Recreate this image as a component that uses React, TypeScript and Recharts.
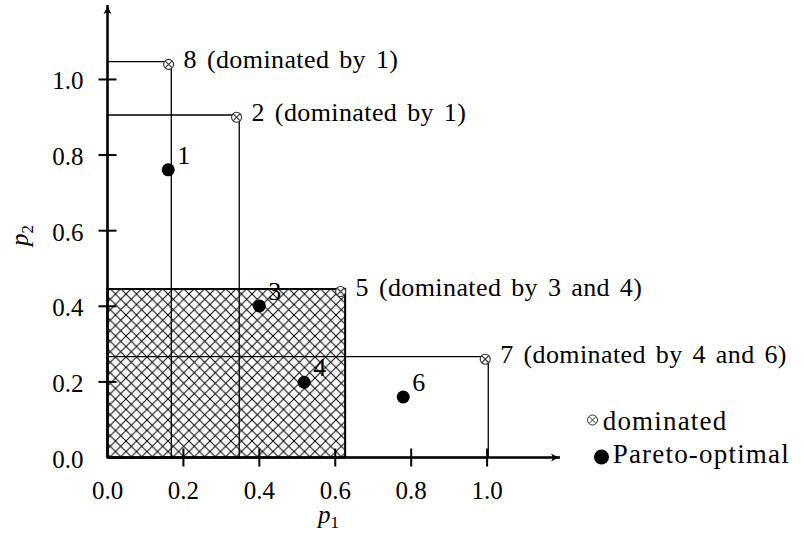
import {
  ScatterChart, Scatter, XAxis, YAxis, ReferenceArea, Legend,
} from "recharts";

// dominated solutions
const dominatedX = [0.161, 0.340, 0.614, 0.995];
const dominatedY = [1.040, 0.900, 0.439, 0.260];
const dominatedLabels = [
  "8 (dominated by 1)",
  "2 (dominated by 1)",
  "5 (dominated by 3 and 4)",
  "7 (dominated by 4 and 6)",
];

// Pareto-optimal solutions
const paretoX = [0.160, 0.400, 0.518, 0.779];
const paretoY = [0.761, 0.401, 0.199, 0.160];
const paretoLabels = ["1", "3", "4", "6"];

// corner of the region each dominated point spans from the origin
const regionX = [0.168, 0.347, 0.626, 1.003];
const regionY = [1.047, 0.906, 0.446, 0.267];
const hatchedRegion = 2; // point 5

const axisTicks = [0, 0.2, 0.4, 0.6, 0.8, 1.0];

const FONT = "'Liberation Serif', serif";

const dominatedData = dominatedX.map((x, i) => ({ x, y: dominatedY[i], label: dominatedLabels[i] }));
const paretoData = paretoX.map((x, i) => ({ x, y: paretoY[i], label: paretoLabels[i] }));

function DominatedShape(props: any) {
  const { cx, cy, payload } = props;
  return (
    <g>
      <circle cx={cx} cy={cy} r={5} fill="#fff" stroke="#333" strokeWidth={1.1} />
      <path d={`M${cx - 3.3},${cy - 3.3}L${cx + 3.3},${cy + 3.3}M${cx + 3.3},${cy - 3.3}L${cx - 3.3},${cy + 3.3}`} stroke="#333" strokeWidth={1.1} />
      <text x={cx + 15} y={cy + 4} fontFamily={FONT} fontSize={26} letterSpacing={0.4} wordSpacing={3} fill="#000">
        {payload.label}
      </text>
    </g>
  );
}

function ParetoShape(props: any) {
  const { cx, cy, payload } = props;
  return (
    <g>
      <circle cx={cx} cy={cy} r={6.5} fill="#000" />
      <text x={cx + 9} y={cy - 6} fontFamily={FONT} fontSize={26} fill="#000">
        {payload.label}
      </text>
    </g>
  );
}

function XTick(props: any) {
  const { x, y, payload } = props;
  return (
    <g>
      {payload.value !== 0 && <line x1={x} y1={y - 9} x2={x} y2={y + 9} stroke="#000" strokeWidth={2} />}
      <text x={x} y={y + 41} textAnchor="middle" fontFamily={FONT} fontSize={25} fill="#000">
        {payload.value.toFixed(1)}
      </text>
    </g>
  );
}

function YTick(props: any) {
  const { x, y, payload } = props;
  return (
    <g>
      {payload.value !== 0 && <line x1={x - 9} y1={y} x2={x + 9} y2={y} stroke="#000" strokeWidth={2} />}
      <text x={x - 24} y={y + 10} textAnchor="end" fontFamily={FONT} fontSize={25} fill="#000">
        {payload.value.toFixed(1)}
      </text>
    </g>
  );
}

function LegendBox() {
  return (
    <svg width={220} height={70} style={{ overflow: "visible", display: "block" }}>
      <circle cx={12.5} cy={20} r={5} fill="#fff" stroke="#333" strokeWidth={1} />
      <path d="M9.2,16.7L15.8,23.3M15.8,16.7L9.2,23.3" stroke="#333" strokeWidth={1} />
      <text x={22.7} y={30} fontFamily={FONT} fontSize={27} letterSpacing={1.2} fill="#000">dominated</text>
      <circle cx={21.5} cy={57} r={7.5} fill="#000" />
      <text x={32.7} y={63} fontFamily={FONT} fontSize={27} letterSpacing={1.2} fill="#000">Pareto-optimal</text>
    </svg>
  );
}

export default function App() {
  return (
    <div style={{ position: "absolute", left: 0, top: 0, background: "#fff" }}>
      <ScatterChart width={804} height={538} margin={{ top: 5, right: 24, left: 0, bottom: 0 }}>
        <defs>
          <pattern id="crosshatch" patternUnits="userSpaceOnUse" width={10.5} height={10.5}>
            <path d="M0,0L10.5,10.5M10.5,0L0,10.5" stroke="#000" strokeWidth={1} />
          </pattern>
          <marker id="arrow" viewBox="-10 -5 11 10" refX={0} refY={0} markerWidth={11} markerHeight={10}
            markerUnits="userSpaceOnUse" orient="auto-start-reverse">
            <path d="M-9,-4Q-4,-1 0,0Q-4,1 -9,4Q-6,0 -9,-4Z" fill="#000" />
          </marker>
        </defs>
        <XAxis
          type="number"
          dataKey="x"
          domain={[0, 1.192]}
          ticks={axisTicks}
          height={80.5}
          tickSize={0}
          tickMargin={0}
          tickLine={false}
          tick={<XTick />}
          axisLine={{ stroke: "#000", strokeWidth: 2.5, markerEnd: "url(#arrow)" }}
          label={{
            content: () => (
              <text x={318} y={523} fontFamily={FONT} fontSize={25} fontStyle="italic" fill="#000">
                p<tspan fontSize={17} fontStyle="normal" dy={5}>1</tspan>
              </text>
            ),
          }}
        />
        <YAxis
          type="number"
          dataKey="y"
          domain={[0, 1.197]}
          ticks={axisTicks}
          width={107.5}
          tickSize={0}
          tickMargin={0}
          tickLine={false}
          tick={<YTick />}
          axisLine={{ stroke: "#000", strokeWidth: 2.5, markerStart: "url(#arrow)" }}
          label={{
            content: () => (
              <text x={0} y={0} transform="translate(28,246) rotate(-90)" fontFamily={FONT} fontSize={25} fontStyle="italic" fill="#000">
                p<tspan fontSize={17} fontStyle="normal" dy={5}>2</tspan>
              </text>
            ),
          }}
        />
        {regionX.map((rx, i) => (
          <ReferenceArea
            key={i}
            x1={0}
            x2={rx}
            y1={0}
            y2={regionY[i]}
            fill={i === hatchedRegion ? "url(#crosshatch)" : "none"}
            fillOpacity={1}
            stroke="#000"
            strokeWidth={i === hatchedRegion ? 2 : 1.3}
            ifOverflow="visible"
          />
        ))}
        <Legend
          layout="vertical"
          align="right"
          verticalAlign="middle"
          content={<LegendBox />}
          wrapperStyle={{ position: "absolute", left: 580, top: 400, width: 220, height: 70 }}
        />
        <Scatter name="dominated" data={dominatedData} shape={<DominatedShape />} isAnimationActive={false} />
        <Scatter name="Pareto-optimal" data={paretoData} shape={<ParetoShape />} isAnimationActive={false} />
      </ScatterChart>
    </div>
  );
}
